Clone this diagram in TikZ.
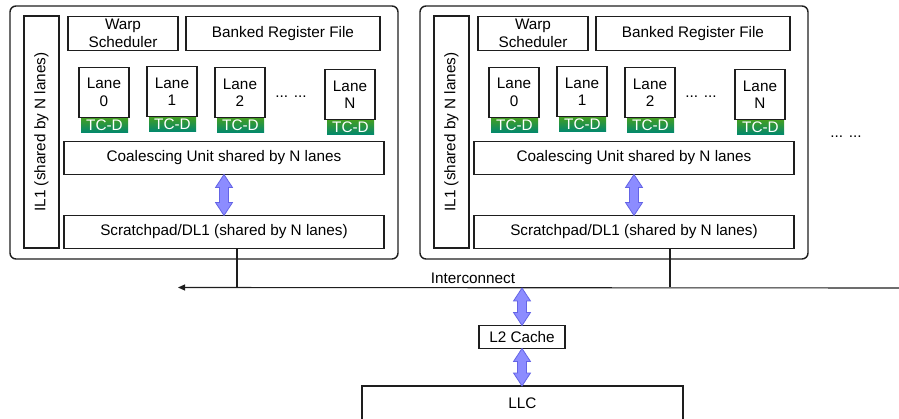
\documentclass[tikz,border=0pt]{standalone}
\usepackage{fontspec}
\setmainfont{Liberation Sans}
\usetikzlibrary{calc,arrows.meta}

\definecolor{ink}{HTML}{1E1E1E}
\definecolor{tcgreen}{HTML}{46A01E}
\definecolor{tcteal}{HTML}{00876F}
\definecolor{arrfill}{HTML}{8C8CFF}
\definecolor{arredge}{HTML}{6464E6}

\newcommand\txt{\fontsize{15.3}{17.5}\selectfont}

\tikzset{
  unit/.style={draw=ink, line width=1.4pt, rounded corners=6pt},
  blk/.style={draw=ink, line width=1.15pt, fill=white, inner sep=0pt, outer sep=0pt,
              align=center, font=\txt},
  tcd/.style={inner sep=0pt, outer sep=0pt, top color=tcgreen, bottom color=tcteal,
              text=white, font=\txt},
  wire/.style={draw=ink, line width=1.1pt},
  fatarrow/.style={draw=arredge, fill=arrfill, line width=0.8pt, line join=miter},
  lbl/.style={font=\txt, inner sep=0pt, outer sep=0pt},
}

% rectangular block given by its corners: name, x1, y1, x2, y2, text
\newcommand\rect[6]{%
  \node[blk, minimum width={(#4-#2)*1pt}, minimum height={(#5-#3)*1pt}]
    (#1) at ({(#2+#4)/2},{(#3+#5)/2+0.5}) {#6};}

% one lane with its TC-D strip: name, left x, top y, lane number
\newcommand\lanebox[4]{%
  \node[tcd, minimum width=47pt, minimum height=16pt] (#1tc) at ({#2+25.5},{#3+58}) {TC-D};
  \node[blk, minimum width=50pt, minimum height=50pt] (#1) at ({#2+25},{#3+25.5}) {Lane\\#4};}

% wide two-headed arrow between a top anchor and a bottom anchor
\newcommand\fatarr[2]{%
  \path[fatarrow] let \p1=(#1), \p2=(#2) in
    (\x1,\y1) -- (\x1+8.5pt,\y1-13pt) -- (\x1+4.5pt,\y1-13pt) -- (\x1+4.5pt,\y2+13pt)
    -- (\x1+8.5pt,\y2+13pt) -- (\x1,\y2) -- (\x1-8.5pt,\y2+13pt) -- (\x1-4.5pt,\y2+13pt)
    -- (\x1-4.5pt,\y1-13pt) -- (\x1-8.5pt,\y1-13pt) -- cycle;}

% one SM: name prefix, x offset, x of the link down to the interconnect
\newcommand\smunit[3]{%
  \begin{scope}[xshift=#2pt]
    \draw[unit] (10,6) rectangle (398,259);
    \node[blk, rotate=90, minimum width=232pt, minimum height=35pt] (#1il) at (41.5,132)
      {IL1 (shared by N lanes)};
    \rect{#1ws}{68}{16}{178}{50}{Warp\\Scheduler}
    \rect{#1rf}{186}{16}{380}{50}{Banked Register File}
    \lanebox{#1lane0}{79}{67}{0}
    \lanebox{#1lane1}{147}{66}{1}
    \lanebox{#1lane2}{215}{67}{2}
    \lanebox{#1laneN}{325}{69}{N}
    \node[lbl, anchor=base] (#1dots) at (291,97.5) {... ...};
    \rect{#1cu}{64}{141}{384}{174}{Coalescing Unit shared by N lanes}
    \rect{#1sp}{64}{215}{384}{248}{Scratchpad/DL1 (shared by N lanes)}
    \fatarr{#1cu.south}{#1sp.north}
    \coordinate (#1tap) at (#3,248.5);
  \end{scope}
  \draw[wire] (#1tap) -- (#1tap |- icL);}

\begin{document}
\begin{tikzpicture}[x=1pt, y=-1pt]
  \useasboundingbox (0,0) rectangle (899,419);

  % interconnect ends
  \coordinate (icR) at (899,288);
  \coordinate (icL) at (178,287.5);

  \smunit{A}{0}{237}
  \smunit{B}{410}{260}

  \node[lbl, anchor=base] (moredots) at (846,137.5) {... ...};

  % interconnect bus
  \draw[wire, -{Triangle[length=7pt,width=6pt]}] (icR) -- (icL);
  \node[lbl] (iclbl) at (473,278) {Interconnect};

  % memory hierarchy below the bus
  \rect{l2}{479}{325}{565}{348}{L2 Cache}
  \node[blk, minimum width=321pt, minimum height=35pt] (llc) at (522.5,403.5) {LLC};
  \coordinate (l2tap) at (l2.north |- icR);
  \fatarr{l2tap}{l2.north}
  \fatarr{l2.south}{llc.north}
\end{tikzpicture}
\end{document}
